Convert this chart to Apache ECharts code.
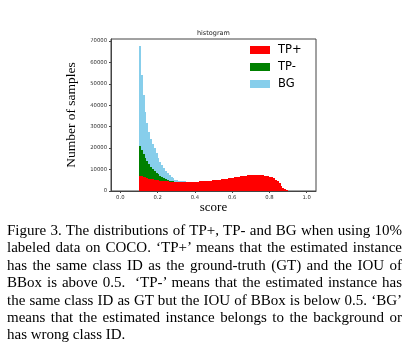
<!DOCTYPE html>
<html>
<head>
<meta charset="utf-8">
<script src="https://cdn.jsdelivr.net/npm/echarts@6/dist/echarts.min.js"></script>
<style>
html,body{margin:0;padding:0;background:#fff}
#wrap{position:relative;width:416px;height:353px;overflow:hidden}
#chart{position:absolute;left:0;top:0;width:416px;height:353px}
#caption{position:absolute;left:7px;top:222px;width:395px;font-family:'Liberation Serif','Times New Roman',serif;font-size:15px;line-height:17.4px;color:#000}
#caption .ln{text-align:justify;text-align-last:justify;white-space:nowrap}
#caption .ln.last{text-align:left;text-align-last:left}
</style>
</head>
<body>
<div id="wrap">
    <div id="chart"></div>
    <div id="caption">
        <div class="ln">Figure 3. The distributions of TP+, TP- and BG when using 10%</div>
        <div class="ln">labeled data on COCO. ‘TP+’ means that the estimated instance</div>
        <div class="ln">has the same class ID as the ground-truth (GT) and the IOU of</div>
        <div class="ln">BBox is above 0.5.&nbsp; ‘TP-’ means that the estimated instance has</div>
        <div class="ln">the same class ID as GT but the IOU of BBox is below 0.5. ‘BG’</div>
        <div class="ln">means that the estimated instance belongs to the background or</div>
        <div class="ln last">has wrong class ID.</div>
    </div>
</div>
<script>
// histogram bins: 0.10 .. 0.89, width 0.01
var binLo = 0.1
var binW = 0.01
var tpPlus = [
    7200, 6900, 6600, 6300, 6000, 5800, 5600, 5400, 5250, 5100,
    4950, 4800, 4700, 4600, 4500, 4450, 4400, 4350, 4300, 4300,
    4250, 4250, 4250, 4250, 4250, 4250, 4250, 4300, 4300, 4350,
    4350, 4400, 4450, 4500, 4550, 4650, 4700, 4800, 4850, 4950,
    5050, 5150, 5250, 5350, 5450, 5550, 5700, 5800, 5950, 6050,
    6200, 6350, 6500, 6650, 6800, 6950, 7050, 7200, 7300, 7400,
    7450, 7500, 7550, 7550, 7500, 7450, 7350, 7200, 7050, 6900,
    6700, 6350, 5900, 5300, 4500, 3500, 2400, 1500, 800, 250
]
var tpMinus = [
    14000, 12300, 10700, 9300, 8000, 6800, 5700, 4800, 4050, 3400,
    2850, 2300, 1800, 1400, 1000, 650, 400, 250, 150, 50,
    50, 30, 20, 0, 0, 0, 0, 0, 0, 0,
    0, 0, 0, 0, 0, 0, 0, 0, 0, 0,
    0, 0, 0, 0, 0, 0, 0, 0, 0, 0,
    0, 0, 0, 0, 0, 0, 0, 0, 0, 0,
    0, 0, 0, 0, 0, 0, 0, 0, 0, 0,
    0, 0, 0, 0, 0, 0, 0, 0, 0, 0
]
var bg = [
    46300, 35100, 27500, 21400, 17600, 14900, 13000, 11900, 10700, 9100,
    7800, 6600, 5500, 4600, 3900, 3200, 2600, 2100, 1550, 950,
    700, 500, 300, 150, 50, 0, 0, 0, 0, 0,
    0, 0, 0, 0, 0, 0, 0, 0, 0, 0,
    0, 0, 0, 0, 0, 0, 0, 0, 0, 0,
    0, 0, 0, 0, 0, 0, 0, 0, 0, 0,
    0, 0, 0, 0, 0, 0, 0, 0, 0, 0,
    0, 0, 0, 0, 0, 0, 0, 0, 0, 0
]
var xTicks = [0, 0.2, 0.4, 0.6, 0.8, 1.0]
var yTicks = [0, 10000, 20000, 30000, 40000, 50000, 60000, 70000]
var names = ['TP+', 'TP-', 'BG']
var colors = ['#ff0000', '#008000', '#87ceeb']

// [bin start, count, stack base]
function stackData(vals, below) {
    var out = []
    for (var i = 0; i < vals.length; i++) {
        var base = 0
        for (var k = 0; k < below.length; k++) base += below[k][i]
        out.push([binLo + i * binW, vals[i], base])
    }
    return out
}

// snap to whole pixels so neighbouring bins meet without seams
function renderBin(params, api) {
    var v = api.value(1)
    if (!v) return
    var x0 = api.value(0)
    var b = api.value(2)
    var p0 = api.coord([x0, b])
    var p1 = api.coord([x0 + binW, b + v])
    var xl = Math.round(p0[0]), xr = Math.round(p1[0])
    var yb = Math.round(p0[1]), yt = Math.round(p1[1])
    if (yb - yt < 1) yt = yb - 1
    return {
        type: 'rect',
        shape: {x: xl, y: yt, width: xr - xl, height: yb - yt},
        style: {fill: api.visual('color')}
    }
}

var tickFont = {fontFamily: 'DejaVu Sans', fontSize: 5.3, color: '#333'}
var myChart = echarts.init(document.getElementById('chart'))
var option = {
    animation: false,
    color: colors,
    graphic: [{
        type: 'text', x: 213.4, y: 29.5,
        style: {text: 'histogram', fontFamily: 'DejaVu Sans', fontSize: 6.5, fill: '#222', textAlign: 'center'}
    }],
    legend: {
        orient: 'vertical', left: 250, top: 44, padding: 0,
        itemWidth: 20, itemHeight: 8, itemGap: 5, icon: 'rect',
        textStyle: {fontFamily: 'DejaVu Sans', fontSize: 11.5, color: '#000', lineHeight: 9, padding: [0, 0, 0, 3]},
        data: names
    },
    grid: {
        left: 111, right: 100, top: 39, bottom: 162,
        show: true, borderColor: '#444', borderWidth: 1
    },
    xAxis: {
        type: 'value', min: -0.05, max: 1.05,
        axisLine: {show: true, onZero: false, lineStyle: {color: '#444'}},
        axisTick: {show: true, length: 2, customValues: xTicks, lineStyle: {color: '#444'}},
        axisLabel: Object.assign({customValues: xTicks, margin: 4, formatter: function (v) { return v.toFixed(1) }}, tickFont),
        splitLine: {show: false},
        name: 'score', nameLocation: 'middle', nameGap: 10,
        nameTextStyle: {fontFamily: 'Liberation Serif', fontSize: 13, color: '#000'}
    },
    yAxis: {
        type: 'value', min: 0, max: 70875,
        axisLine: {show: true, onZero: false, lineStyle: {color: '#444'}},
        axisTick: {show: true, length: 2, customValues: yTicks, lineStyle: {color: '#444'}},
        axisLabel: Object.assign({customValues: yTicks, margin: 4, formatter: function (v) { return String(v) }}, tickFont),
        splitLine: {show: false},
        name: 'Number of samples', nameLocation: 'middle', nameRotate: 90, nameGap: 33,
        nameTextStyle: {fontFamily: 'Liberation Serif', fontSize: 13.5, color: '#000'}
    },
    series: [
        {name: names[0], type: 'custom', renderItem: renderBin, data: stackData(tpPlus, [])},
        {name: names[1], type: 'custom', renderItem: renderBin, data: stackData(tpMinus, [tpPlus])},
        {name: names[2], type: 'custom', renderItem: renderBin, data: stackData(bg, [tpPlus, tpMinus])}
    ]
}
myChart.setOption(option)
</script>
</body>
</html>
